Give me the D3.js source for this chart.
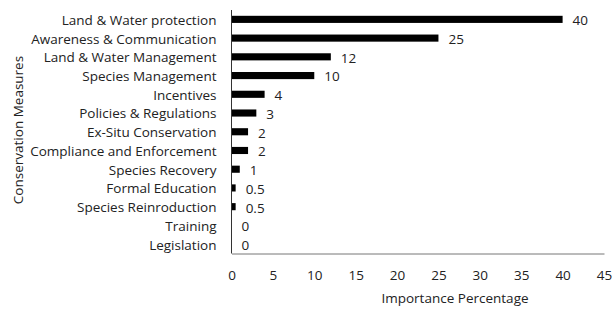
<!DOCTYPE html>
<html><head><meta charset="utf-8">
<script src="https://cdn.jsdelivr.net/npm/d3@7/dist/d3.min.js"></script>
<style>body{margin:0;background:#fff}svg{display:block}text{font-family:"Open Sans",sans-serif;fill:#222}</style>
</head><body><svg id="c" width="615" height="309"></svg>
<script>
const categories = ["Land & Water protection","Awareness & Communication","Land & Water Management","Species Management","Incentives","Policies & Regulations","Ex-Situ Conservation","Compliance and Enforcement","Species Recovery","Formal Education","Species Reinroduction","Training","Legislation"];
const values = [40,25,12,10,4,3,2,2,1,0.5,0.5,0,0];
const valueLabels = ["40","25","12","10","4","3","2","2","1","0.5","0.5","0","0"];
const xTicks = [0,5,10,15,20,25,30,35,40,45];
const xTitle = "Importance Percentage";
const yTitle = "Conservation Measures";

const svg = d3.select("#c");
const m = {left:231.5, right:604, top:10, bottom:253.5};
const x = d3.scaleLinear().domain([0,45]).range([m.left, m.right]);
const y = d3.scaleBand().domain(categories).range([m.top, m.bottom]).paddingInner(0.62).paddingOuter(0.31);

const data = categories.map((c,i)=>({c, v:values[i], l:valueLabels[i]}));

svg.selectAll("rect.bar").data(data).enter().append("rect").attr("class","bar")
  .attr("x", x(0)).attr("y", d=>y(d.c)).attr("width", d=>x(d.v)-x(0)).attr("height", y.bandwidth()).attr("fill","#000");

svg.selectAll("text.val").data(data).enter().append("text").attr("class","val")
  .attr("x", d=>x(d.v)+10).attr("y", d=>y(d.c)+y.bandwidth()/2+1).attr("dy","0.36em")
  .attr("font-size",13.5).text(d=>d.l);

// y axis
const ya = svg.append("g").attr("transform",`translate(${x(0)},0)`).call(d3.axisLeft(y).tickSize(0).tickPadding(15));
ya.select(".domain").attr("stroke","#333").attr("d",`M0,${m.top}V${m.bottom}`);
ya.selectAll("text").attr("font-size",13.5).attr("dy","0.4em").style("font-family","'Open Sans',sans-serif").attr("fill","#222");

// x axis
const xa = svg.append("g").attr("transform",`translate(0,${m.bottom})`).call(d3.axisBottom(x).tickValues(xTicks).tickSize(0).tickPadding(17).tickFormat(d3.format("d")));
xa.select(".domain").attr("stroke","#777");
xa.selectAll("text").attr("font-size",13.5).style("font-family","'Open Sans',sans-serif").attr("fill","#222");

svg.append("text").attr("x", 455).attr("y", 303).attr("text-anchor","middle").attr("font-size",13.5).text(xTitle);
svg.append("text").attr("transform","translate(23,130) rotate(-90)").attr("text-anchor","middle").attr("font-size",13.5).text(yTitle);
</script></body></html>
